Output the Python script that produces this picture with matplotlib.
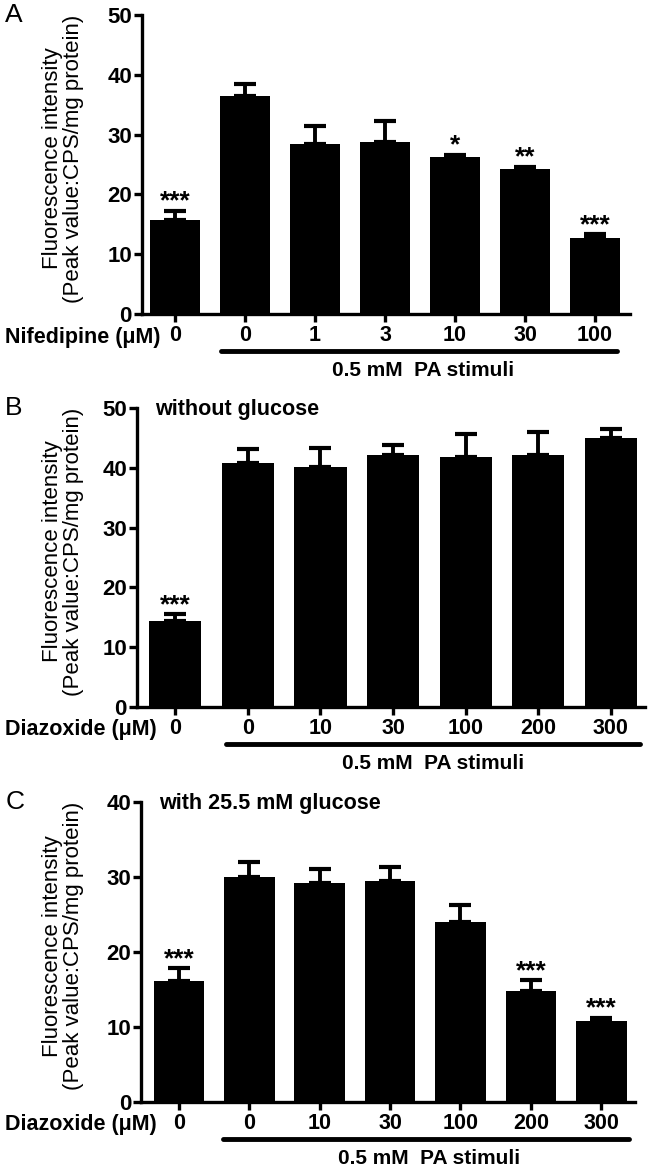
import numpy as np
import matplotlib
matplotlib.use('Agg')
import matplotlib.pyplot as plt
import matplotlib.transforms as mtransforms

plt.rcParams['font.family'] = ['Liberation Sans', 'DejaVu Sans']

# Panel A: nifedipine
a_ticks = ['0', '0', '1', '3', '10', '30', '100']
a_mean = [15.7, 36.5, 28.5, 28.7, 26.2, 24.2, 12.7]
a_err = [1.6, 1.9, 2.9, 3.6, 0.4, 0.4, 0.6]
a_stars = ['***', '', '', '', '*', '**', '***']

# Panel B: diazoxide, without glucose
b_ticks = ['0', '0', '10', '30', '100', '200', '300']
b_mean = [14.4, 40.8, 40.2, 42.1, 41.8, 42.2, 45.0]
b_err = [1.1, 2.3, 3.2, 1.8, 3.9, 3.8, 1.5]
b_stars = ['***', '', '', '', '', '', '']

# Panel C: diazoxide, with 25.5 mM glucose
c_ticks = ['0', '0', '10', '30', '100', '200', '300']
c_mean = [16.1, 30.0, 29.1, 29.4, 23.9, 14.8, 10.8]
c_err = [1.7, 1.9, 1.9, 1.9, 2.3, 1.4, 0.4]
c_stars = ['***', '', '', '', '', '***', '***']

W, H = 652, 1169
fig = plt.figure(figsize=(W / 100, H / 100), dpi=100)


def fbox(left, right, top, bottom):
    # pixel box -> figure fraction rect
    return [left / W, 1 - bottom / H, (right - left) / W, (bottom - top) / H]


def draw_panel(rect, xlim, ymax, means, errs, ticks, stars, drug, letter,
               title=None, line_x=(0.66, 6.32)):
    ax = fig.add_axes(rect)
    x = np.arange(len(means))
    ax.bar(x, means, width=0.72, color='black', zorder=2)
    ax.errorbar(x, means, yerr=[np.zeros(len(errs)), errs], fmt='none',
                ecolor='black', elinewidth=2.8, capsize=8, capthick=3, zorder=1)
    for xi, m, e, s in zip(x, means, errs, stars):
        if s:
            ax.annotate(s, (xi, m + e), xytext=(0, -2), textcoords='offset points',
                        ha='center', va='bottom', fontsize=19, fontweight='bold')
    ax.set_xlim(*xlim)
    ax.set_ylim(0, ymax)
    ax.set_yticks(np.arange(0, ymax + 1, 10))
    ax.set_xticks(x)
    ax.set_xticklabels(ticks)
    for side in ['top', 'right']:
        ax.spines[side].set_visible(False)
    for side in ['left', 'bottom']:
        ax.spines[side].set_linewidth(2.4)
    ax.tick_params(axis='both', width=2.4, length=6, direction='out')
    ax.tick_params(axis='y', labelsize=16, pad=1)
    ax.tick_params(axis='x', labelsize=15.5, pad=2)
    for lab in ax.get_yticklabels() + ax.get_xticklabels():
        lab.set_fontweight('bold')

    # y label placed by pixel centre
    x0, y0, w, h = rect
    ax.text((63 / W - x0) / w, 0.52,
            'Fluorescence intensity\n(Peak value:CPS/mg protein)',
            transform=ax.transAxes, rotation=90, ha='center', va='center',
            fontsize=16, linespacing=1.05)

    trans = mtransforms.blended_transform_factory(ax.transData, ax.transAxes)
    ax.plot(line_x, [-0.125, -0.125], color='black', lw=3.5,
            solid_capstyle='round', transform=trans, clip_on=False)
    ax.text(3.55, -0.19, '0.5 mM  PA stimuli', transform=trans, ha='center',
            va='center', fontsize=15, fontweight='bold')

    # drug label sits on the tick-label row
    tl = mtransforms.blended_transform_factory(fig.transFigure, ax.transAxes)
    ax.text(0.008, -0.077, drug, transform=tl, ha='left', va='center',
            fontsize=15.5, fontweight='bold')
    ax.text(0.008, 1.0, letter, transform=tl, ha='left', va='center', fontsize=19)
    if title:
        ax.text(0.037, 0.995, title, transform=ax.transAxes, ha='left',
                va='center', fontsize=15.5, fontweight='bold')
    return ax


draw_panel(fbox(141.7, 630, 15, 314), (-0.476, 6.5), 50, a_mean, a_err,
           a_ticks, a_stars, 'Nifedipine (μM)', 'A')
draw_panel(fbox(136.7, 645, 408.3, 706.7), (-0.53, 6.47), 50, b_mean, b_err,
           b_ticks, b_stars, 'Diazoxide (μM)', 'B', title='without glucose',
           line_x=(0.7, 6.4))
draw_panel(fbox(141, 635, 801.7, 1101.7), (-0.54, 6.48), 40, c_mean, c_err,
           c_ticks, c_stars, 'Diazoxide (μM)', 'C', title='with 25.5 mM glucose',
           line_x=(0.63, 6.4))

fig.savefig('out.png', dpi=100)
